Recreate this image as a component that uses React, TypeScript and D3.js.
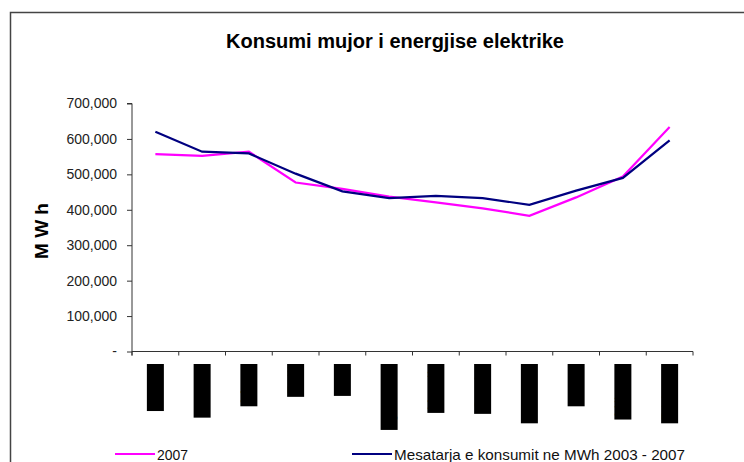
import React, { useRef, useEffect } from 'react';
import * as d3 from 'd3';

const months = ['Janar', 'Shkurt', 'Mars', 'Prill', 'Maj', 'Qershor', 'Korrik', 'Gusht', 'Shtator', 'Tetor', 'Nëntor', 'Dhjetor'];
const values2007 = [557000, 552000, 564000, 477000, 459000, 437000, 421000, 404000, 383000, 435000, 494000, 634000];
const valuesAvg = [620000, 564000, 559000, 502000, 452000, 433000, 439000, 433000, 414000, 454000, 490000, 596000];
const yTicks = [0, 100000, 200000, 300000, 400000, 500000, 600000, 700000];
const legendLabels = ['2007', 'Mesatarja e konsumit ne MWh 2003 - 2007'];

const font = "'Liberation Sans', Arial, sans-serif";

const App = () => {
  const svgRef = useRef<SVGSVGElement>(null);

  useEffect(() => {
    const svg = d3.select(svgRef.current);
    const width = 744;
    const height = 462;
    const margin = { top: 103.5, right: 51, bottom: 110.5, left: 132 };

    svg.selectAll('*').remove();

    // outer frame, runs off the right and bottom like the original
    svg.append('rect')
      .attr('x', 10.5).attr('y', 12.5)
      .attr('width', 760).attr('height', 480)
      .attr('fill', 'white')
      .attr('stroke', '#444')
      .attr('stroke-width', 1.5);

    const x = d3.scaleBand()
      .domain(months)
      .range([margin.left, width - margin.right]);

    const y = d3.scaleLinear()
      .domain([0, 700000])
      .range([height - margin.bottom, margin.top]);

    const cx = (m: string) => (x(m) as number) + x.bandwidth() / 2;

    // title
    svg.append('text')
      .attr('x', 395).attr('y', 48)
      .attr('text-anchor', 'middle')
      .attr('font-family', font)
      .attr('font-weight', 'bold')
      .attr('font-size', 20)
      .attr('textLength', 338)
      .attr('lengthAdjust', 'spacingAndGlyphs')
      .text('Konsumi mujor i energjise elektrike');

    // y axis
    const yAxis = svg.append('g')
      .attr('transform', `translate(${margin.left},0)`)
      .call(d3.axisLeft(y)
        .tickValues(yTicks)
        .tickSize(5)
        .tickPadding(10)
        .tickFormat(d => (+d === 0 ? '-' : d3.format(',')(+d))));
    yAxis.select('.domain').attr('stroke', '#333').attr('d', `M-5,${y(700000)}H0V${y(0) + 4}`);
    yAxis.selectAll('.tick line').attr('stroke', '#333');
    yAxis.selectAll('.tick text')
      .attr('font-family', font)
      .attr('font-size', 14)
      .attr('fill', '#222');

    svg.append('text')
      .attr('transform', `translate(48,231) rotate(-90)`)
      .attr('text-anchor', 'middle')
      .attr('font-family', font)
      .attr('font-weight', 'bold')
      .attr('font-size', 19)
      .text('M W h');

    // x axis
    const xAxis = svg.append('g')
      .attr('transform', `translate(0,${y(0)})`);
    xAxis.append('path')
      .attr('d', `M${margin.left},0H${width - margin.right}`)
      .attr('stroke', '#333');
    xAxis.selectAll('line')
      .data(d3.range(months.length + 1))
      .join('line')
      .attr('x1', i => margin.left + i * x.step())
      .attr('x2', i => margin.left + i * x.step())
      .attr('y1', 0).attr('y2', 4)
      .attr('stroke', '#333');

    // month labels, rotated, drawn as solid black boxes like in the source
    const labelTop = y(0) + 12.5;
    const labels = svg.append('g');
    months.forEach(m => {
      const g = labels.append('g');
      const rect = g.append('rect').attr('fill', 'black');
      const t = g.append('text')
        .attr('transform', `translate(${cx(m) + 4.5},${labelTop + 2}) rotate(-90)`)
        .attr('text-anchor', 'end')
        .attr('font-family', font)
        .attr('font-size', 17)
        .attr('fill', 'black')
        .text(m);
      const len = (t.node() as SVGTextElement).getComputedTextLength();
      rect.attr('x', cx(m) - 8.5)
        .attr('y', labelTop)
        .attr('width', 17)
        .attr('height', len + 4.5);
    });

    // lines
    const line = d3.line<number>()
      .x((_, i) => cx(months[i]))
      .y(d => y(d));

    svg.append('path')
      .datum(values2007)
      .attr('fill', 'none')
      .attr('stroke', '#FF00FF')
      .attr('stroke-width', 2.2)
      .attr('d', line);

    svg.append('path')
      .datum(valuesAvg)
      .attr('fill', 'none')
      .attr('stroke', '#000080')
      .attr('stroke-width', 2.2)
      .attr('d', line);

    // legend
    const legend = [
      { label: legendLabels[0], color: '#FF00FF', x: 115, w: 31 },
      { label: legendLabels[1], color: '#000080', x: 352, w: 291 },
    ];
    legend.forEach(l => {
      svg.append('line')
        .attr('x1', l.x).attr('x2', l.x + 40)
        .attr('y1', 454).attr('y2', 454)
        .attr('stroke', l.color)
        .attr('stroke-width', 2);
      svg.append('text')
        .attr('x', l.x + 42).attr('y', 459.5)
        .attr('font-family', font)
        .attr('font-size', 15)
        .attr('textLength', l.w)
        .attr('lengthAdjust', 'spacingAndGlyphs')
        .attr('fill', '#111')
        .text(l.label);
    });
  }, []);

  return (
    <svg
      ref={svgRef}
      width={744}
      height={462}
      style={{ position: 'absolute', left: 0, top: 0, background: 'white' }}
    />
  );
};

export default App;
